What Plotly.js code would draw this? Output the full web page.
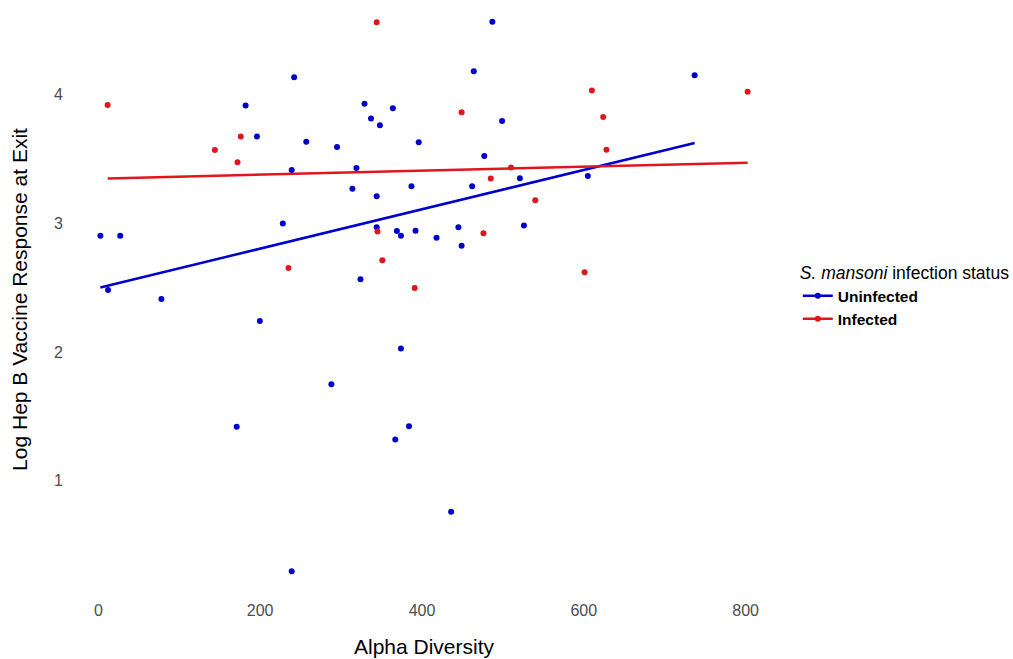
<!DOCTYPE html>
<html>
<head>
<meta charset="utf-8">
<script src="https://cdn.plot.ly/plotly-3.0.1.min.js"></script>
<style>html,body{margin:0;padding:0;background:#fff;}#chart{width:1013px;height:659px;}</style>
</head>
<body>
<div id="chart"></div>
<script>
// Uninfected participants
const uninfectedX = [2.5, 12, 27, 78, 182, 196, 242, 239, 228, 257, 199.6, 288, 171, 239,
  329, 364, 337, 348, 295, 396, 319, 314, 344, 344, 369, 374, 392, 418, 449, 445, 387,
  324, 374, 384, 367, 436, 487, 464, 499, 477, 521, 462, 526, 605, 737];
const uninfectedY = [2.90, 2.48, 2.90, 2.41, 3.91, 3.67, 4.13, 3.41, 2.995, 3.63, 2.24, 1.75, 1.42, 0.30,
  3.925, 3.89, 3.81, 3.757, 3.59, 3.625, 3.426, 3.266, 3.207, 2.967, 2.938, 2.90, 2.94, 2.886, 2.824, 2.967, 3.284,
  2.563, 2.026, 1.424, 1.32, 0.76, 4.56, 4.176, 3.79, 3.52, 3.346, 3.284, 2.98, 3.364, 4.145];
// Infected participants
const infectedX = [11.5, 144, 172, 176, 235, 344, 345, 351, 391, 449, 476, 485, 510, 540, 601, 610, 624, 628, 802.5];
const infectedY = [3.915, 3.566, 3.47, 3.67, 2.65, 4.556, 2.933, 2.711, 2.496, 3.858, 2.92, 3.344, 3.43, 3.176, 2.618, 4.028, 3.822, 3.568, 4.018];
// Linear fits: [intercept, slope]
const fitUninfected = [2.496, 0.001525];
const fitInfected = [3.344, 0.000153];
const groupNames = ["Uninfected", "Infected"];
const groupColors = ["#0000CD", "#E0161C"];

function fitLine(xs, coef) {
  const lo = Math.min(...xs), hi = Math.max(...xs);
  return {x: [lo, hi], y: [coef[0] + coef[1] * lo, coef[0] + coef[1] * hi]};
}

const sets = [
  {x: uninfectedX, y: uninfectedY, fit: fitUninfected},
  {x: infectedX, y: infectedY, fit: fitInfected}
];
const traces = [];
sets.forEach((s, i) => {
  const fl = fitLine(s.x, s.fit);
  traces.push({x: fl.x, y: fl.y, mode: 'lines', type: 'scatter', showlegend: false,
    line: {color: groupColors[i], width: 2.5}, hoverinfo: 'skip'});
});
sets.forEach((s, i) => {
  traces.push({x: s.x, y: s.y, mode: 'markers', type: 'scatter', showlegend: false,
    marker: {color: groupColors[i], size: 6}, name: groupNames[i]});
});
groupNames.forEach((n, i) => {
  traces.push({x: [null], y: [null], mode: 'lines+markers', type: 'scatter', name: '<b>' + n + '</b>',
    line: {color: groupColors[i], width: 2.5}, marker: {color: groupColors[i], size: 6}});
});

const layout = {
  width: 1013, height: 659,
  margin: {l: 68, r: 233, t: 0, b: 60},
  paper_bgcolor: '#fff', plot_bgcolor: '#fff',
  font: {family: 'Liberation Sans, Arial, sans-serif', color: '#000'},
  showlegend: true,
  xaxis: {
    range: [-37.5, 842.5], tickvals: [0, 200, 400, 600, 800], showgrid: false, zeroline: false,
    showline: false, ticks: '', tickfont: {size: 16, color: '#4D4D4D'},
    title: {text: 'Alpha Diversity', font: {size: 21, color: '#000'}, standoff: 21}, automargin: false
  },
  yaxis: {
    range: [0.084, 4.729], tickvals: [1, 2, 3, 4], showgrid: false, zeroline: false,
    showline: false, ticks: '', tickfont: {size: 16, color: '#4D4D4D'}, ticklabelstandoff: 4,
    title: {text: 'Log Hep B Vaccine Response at Exit', font: {size: 21, color: '#000'}, standoff: 20}, automargin: false
  },
  legend: {
    x: 1.025, y: 0.572, xanchor: 'left', yanchor: 'top',
    title: {text: '<i>S. mansoni</i> infection status', font: {size: 17.5, color: '#000'}},
    font: {size: 15.5, color: '#000'}, tracegroupgap: 0, itemwidth: 30
  }
};
Plotly.newPlot('chart', traces, layout, {displayModeBar: false, staticPlot: true});
</script>
</body>
</html>
